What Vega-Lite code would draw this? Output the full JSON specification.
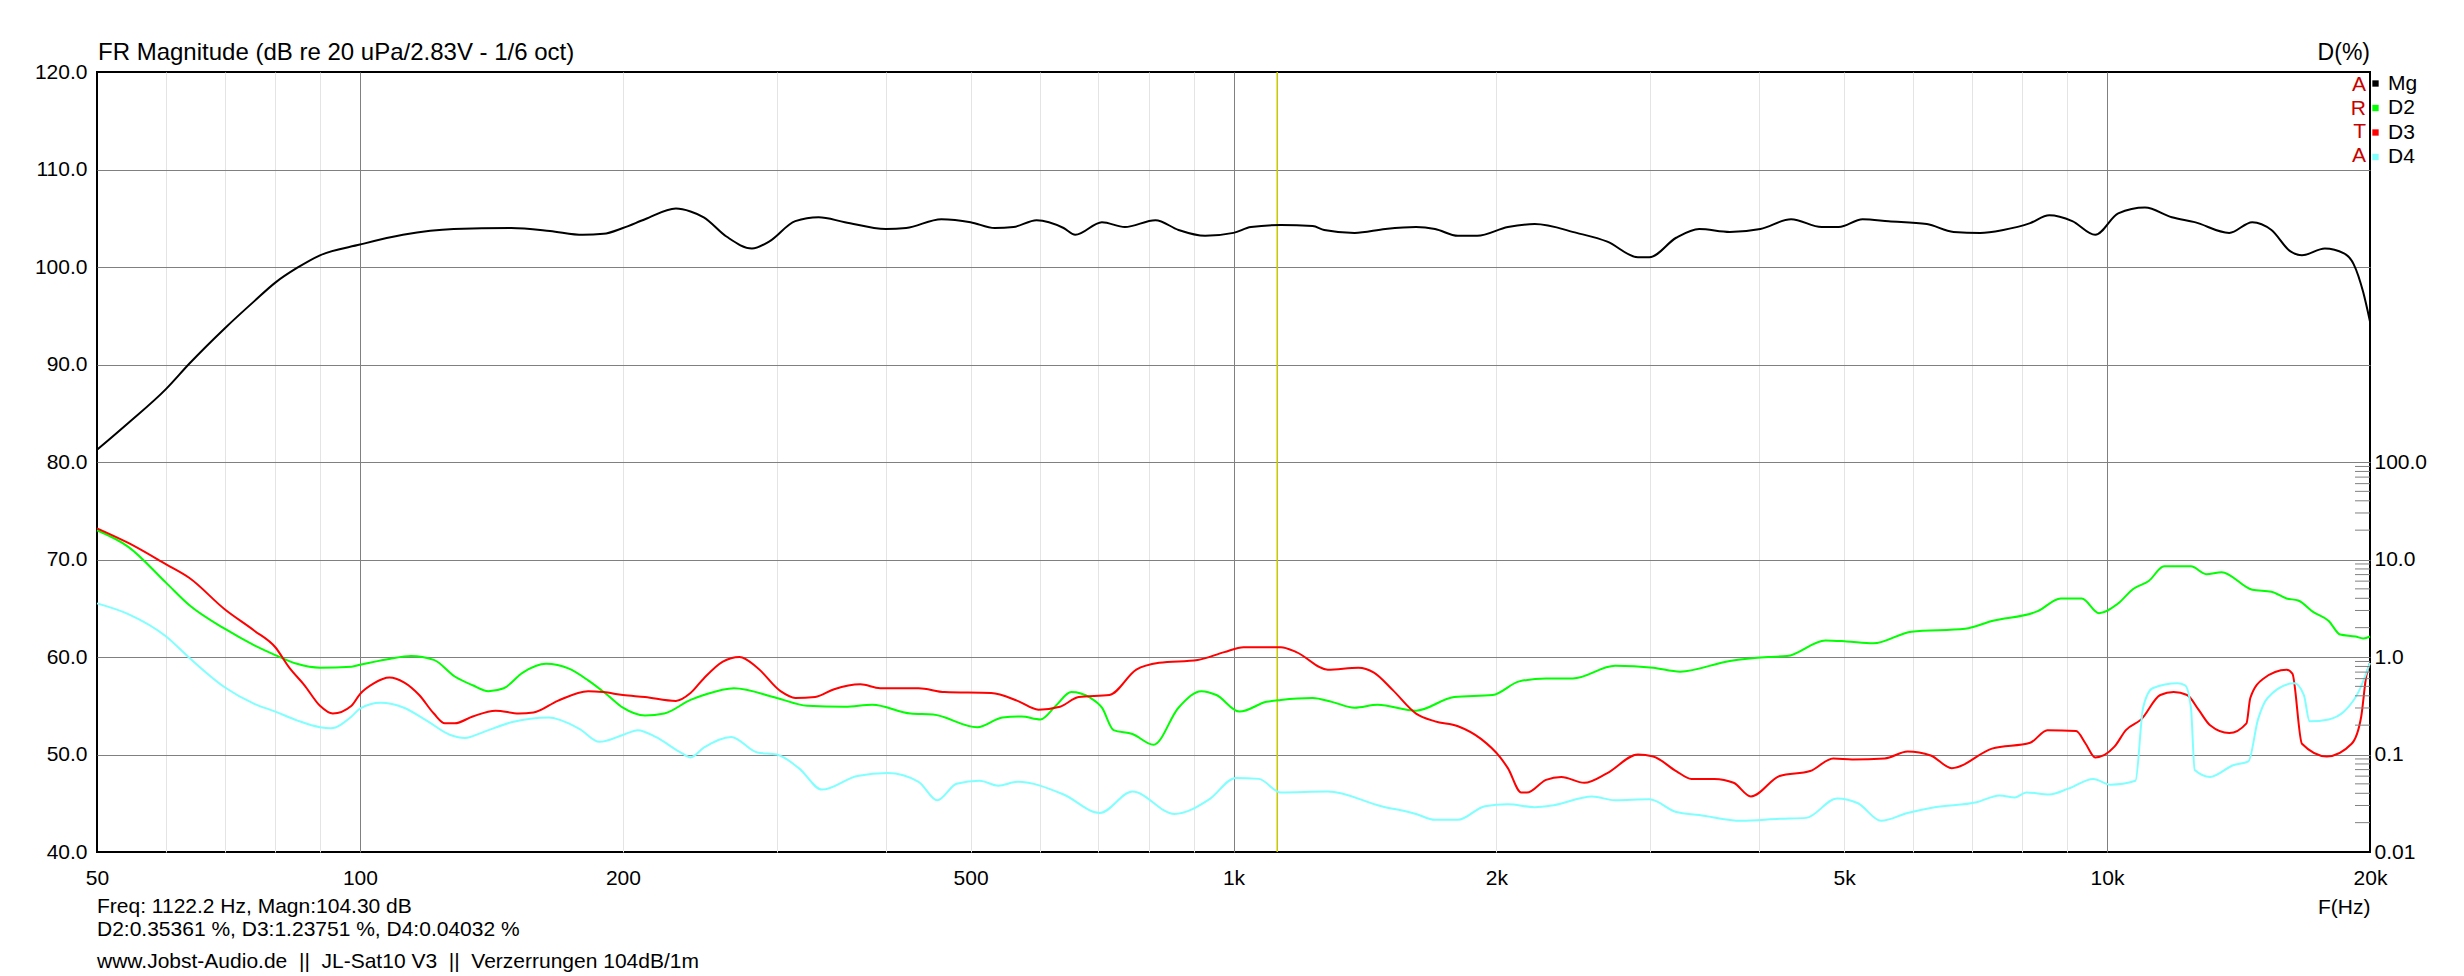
{
  "$schema": "https://vega.github.io/schema/vega-lite/v6.json",
  "width": 2273,
  "height": 780,
  "autosize": {"type": "none"},
  "padding": {"left": 97, "top": 72, "right": 94, "bottom": 124},
  "background": "#ffffff",
  "config": {
    "font": "Liberation Sans",
    "view": {"stroke": "#000000", "strokeWidth": 2},
    "axis": {"labelFont": "Liberation Sans", "titleFont": "Liberation Sans", "labelColor": "#000000", "titleColor": "#000000", "labelFontSize": 21, "titleFontSize": 21, "titleFontWeight": "normal"},
    "legend": {"labelFont": "Liberation Sans"}
  },
  "layer": [
    {
      "layer": [
        {
          "data": {"values": [{"f": 1122.2}]},
          "mark": {"type": "rule", "color": "#c8c800", "strokeWidth": 1.5},
          "encoding": {"x": {"field": "f", "type": "quantitative"}}
        },
        {
          "data": {"values": [
            {"s": "Mg", "f": 50, "db": 81.25}, {"s": "Mg", "f": 54.3, "db": 84.0}, {"s": "Mg", "f": 60, "db": 87.5}, {"s": "Mg", "f": 63.8, "db": 90.1},
            {"s": "Mg", "f": 70, "db": 93.7}, {"s": "Mg", "f": 75.7, "db": 96.5}, {"s": "Mg", "f": 80, "db": 98.4}, {"s": "Mg", "f": 84.7, "db": 99.9},
            {"s": "Mg", "f": 90, "db": 101.2}, {"s": "Mg", "f": 100, "db": 102.3}, {"s": "Mg", "f": 112, "db": 103.3}, {"s": "Mg", "f": 128, "db": 103.9},
            {"s": "Mg", "f": 149, "db": 104.0}, {"s": "Mg", "f": 165, "db": 103.7}, {"s": "Mg", "f": 180, "db": 103.3}, {"s": "Mg", "f": 190, "db": 103.4},
            {"s": "Mg", "f": 200, "db": 104.0}, {"s": "Mg", "f": 212, "db": 104.9}, {"s": "Mg", "f": 230, "db": 106.0}, {"s": "Mg", "f": 239, "db": 105.7},
            {"s": "Mg", "f": 247.5, "db": 105.1}, {"s": "Mg", "f": 263, "db": 103.1}, {"s": "Mg", "f": 281, "db": 101.9}, {"s": "Mg", "f": 294, "db": 102.6},
            {"s": "Mg", "f": 315, "db": 104.7}, {"s": "Mg", "f": 335, "db": 105.1}, {"s": "Mg", "f": 359, "db": 104.6}, {"s": "Mg", "f": 400, "db": 103.9},
            {"s": "Mg", "f": 422, "db": 104.0}, {"s": "Mg", "f": 463, "db": 104.9}, {"s": "Mg", "f": 500, "db": 104.6}, {"s": "Mg", "f": 533, "db": 104.0},
            {"s": "Mg", "f": 560, "db": 104.1}, {"s": "Mg", "f": 595, "db": 104.8}, {"s": "Mg", "f": 639, "db": 104.0}, {"s": "Mg", "f": 659, "db": 103.3},
            {"s": "Mg", "f": 707, "db": 104.6}, {"s": "Mg", "f": 751, "db": 104.1}, {"s": "Mg", "f": 814, "db": 104.8}, {"s": "Mg", "f": 865, "db": 103.8},
            {"s": "Mg", "f": 928, "db": 103.2}, {"s": "Mg", "f": 1000, "db": 103.5}, {"s": "Mg", "f": 1047, "db": 104.1}, {"s": "Mg", "f": 1133, "db": 104.3},
            {"s": "Mg", "f": 1232, "db": 104.2}, {"s": "Mg", "f": 1270, "db": 103.8}, {"s": "Mg", "f": 1376, "db": 103.5}, {"s": "Mg", "f": 1492, "db": 103.9},
            {"s": "Mg", "f": 1618, "db": 104.1}, {"s": "Mg", "f": 1701, "db": 103.9}, {"s": "Mg", "f": 1807, "db": 103.2}, {"s": "Mg", "f": 1901, "db": 103.2},
            {"s": "Mg", "f": 2061, "db": 104.1}, {"s": "Mg", "f": 2212, "db": 104.4}, {"s": "Mg", "f": 2471, "db": 103.5}, {"s": "Mg", "f": 2679, "db": 102.6},
            {"s": "Mg", "f": 2904, "db": 101.0}, {"s": "Mg", "f": 2993, "db": 101.0}, {"s": "Mg", "f": 3212, "db": 103.0}, {"s": "Mg", "f": 3413, "db": 103.9},
            {"s": "Mg", "f": 3700, "db": 103.6}, {"s": "Mg", "f": 4010, "db": 103.9}, {"s": "Mg", "f": 4348, "db": 104.9}, {"s": "Mg", "f": 4713, "db": 104.1},
            {"s": "Mg", "f": 4930, "db": 104.1}, {"s": "Mg", "f": 5250, "db": 104.9}, {"s": "Mg", "f": 5622, "db": 104.7}, {"s": "Mg", "f": 6219, "db": 104.4},
            {"s": "Mg", "f": 6673, "db": 103.6}, {"s": "Mg", "f": 7161, "db": 103.5}, {"s": "Mg", "f": 7607, "db": 103.8}, {"s": "Mg", "f": 8166, "db": 104.5},
            {"s": "Mg", "f": 8588, "db": 105.3}, {"s": "Mg", "f": 9125, "db": 104.7}, {"s": "Mg", "f": 9694, "db": 103.3}, {"s": "Mg", "f": 10299, "db": 105.5},
            {"s": "Mg", "f": 11052, "db": 106.1}, {"s": "Mg", "f": 11862, "db": 105.1}, {"s": "Mg", "f": 12600, "db": 104.6}, {"s": "Mg", "f": 13800, "db": 103.5},
            {"s": "Mg", "f": 14663, "db": 104.6}, {"s": "Mg", "f": 15425, "db": 103.8}, {"s": "Mg", "f": 16218, "db": 101.6}, {"s": "Mg", "f": 16716, "db": 101.2},
            {"s": "Mg", "f": 17757, "db": 101.9}, {"s": "Mg", "f": 18676, "db": 101.4}, {"s": "Mg", "f": 19155, "db": 100.3}, {"s": "Mg", "f": 19647, "db": 97.4},
            {"s": "Mg", "f": 20000, "db": 94.4},

            {"s": "D2", "f": 50, "db": 73.0}, {"s": "D2", "f": 54.3, "db": 71.3}, {"s": "D2", "f": 60, "db": 67.6}, {"s": "D2", "f": 63.8, "db": 65.3},
            {"s": "D2", "f": 70, "db": 62.9}, {"s": "D2", "f": 75.7, "db": 61.2}, {"s": "D2", "f": 80, "db": 60.2}, {"s": "D2", "f": 84.7, "db": 59.3},
            {"s": "D2", "f": 90, "db": 58.9}, {"s": "D2", "f": 97.8, "db": 59.0}, {"s": "D2", "f": 100, "db": 59.2}, {"s": "D2", "f": 108, "db": 59.8},
            {"s": "D2", "f": 114.4, "db": 60.1}, {"s": "D2", "f": 121.5, "db": 59.7}, {"s": "D2", "f": 128.4, "db": 58.0}, {"s": "D2", "f": 134.6, "db": 57.1},
            {"s": "D2", "f": 140.3, "db": 56.5}, {"s": "D2", "f": 146.1, "db": 56.8}, {"s": "D2", "f": 153.6, "db": 58.4}, {"s": "D2", "f": 163.3, "db": 59.3},
            {"s": "D2", "f": 173.5, "db": 58.8}, {"s": "D2", "f": 182.5, "db": 57.6}, {"s": "D2", "f": 192, "db": 56.1}, {"s": "D2", "f": 200, "db": 54.8},
            {"s": "D2", "f": 212, "db": 54.0}, {"s": "D2", "f": 223, "db": 54.2}, {"s": "D2", "f": 239, "db": 55.6}, {"s": "D2", "f": 247.5, "db": 56.1},
            {"s": "D2", "f": 268, "db": 56.8}, {"s": "D2", "f": 300, "db": 55.8}, {"s": "D2", "f": 325, "db": 55.0}, {"s": "D2", "f": 359, "db": 54.9},
            {"s": "D2", "f": 386, "db": 55.1}, {"s": "D2", "f": 427, "db": 54.2}, {"s": "D2", "f": 453, "db": 54.1}, {"s": "D2", "f": 509, "db": 52.8},
            {"s": "D2", "f": 544, "db": 53.8}, {"s": "D2", "f": 572, "db": 53.9}, {"s": "D2", "f": 601, "db": 53.6}, {"s": "D2", "f": 626, "db": 55.0},
            {"s": "D2", "f": 652, "db": 56.4}, {"s": "D2", "f": 686, "db": 55.8}, {"s": "D2", "f": 707, "db": 54.8}, {"s": "D2", "f": 729, "db": 52.5},
            {"s": "D2", "f": 766, "db": 52.1}, {"s": "D2", "f": 810, "db": 51.0}, {"s": "D2", "f": 865, "db": 54.8}, {"s": "D2", "f": 919, "db": 56.5},
            {"s": "D2", "f": 956, "db": 56.1}, {"s": "D2", "f": 1016, "db": 54.4}, {"s": "D2", "f": 1091, "db": 55.4}, {"s": "D2", "f": 1133, "db": 55.6},
            {"s": "D2", "f": 1232, "db": 55.8}, {"s": "D2", "f": 1296, "db": 55.4}, {"s": "D2", "f": 1376, "db": 54.8}, {"s": "D2", "f": 1462, "db": 55.1},
            {"s": "D2", "f": 1618, "db": 54.5}, {"s": "D2", "f": 1789, "db": 55.9}, {"s": "D2", "f": 1980, "db": 56.1}, {"s": "D2", "f": 2124, "db": 57.5},
            {"s": "D2", "f": 2279, "db": 57.8}, {"s": "D2", "f": 2446, "db": 57.8}, {"s": "D2", "f": 2734, "db": 59.1}, {"s": "D2", "f": 3023, "db": 58.9},
            {"s": "D2", "f": 3245, "db": 58.5}, {"s": "D2", "f": 3700, "db": 59.6}, {"s": "D2", "f": 4093, "db": 60.0}, {"s": "D2", "f": 4302, "db": 60.1},
            {"s": "D2", "f": 4761, "db": 61.7}, {"s": "D2", "f": 5031, "db": 61.6}, {"s": "D2", "f": 5400, "db": 61.4}, {"s": "D2", "f": 5973, "db": 62.6},
            {"s": "D2", "f": 6880, "db": 62.9}, {"s": "D2", "f": 7383, "db": 63.7}, {"s": "D2", "f": 8331, "db": 64.7}, {"s": "D2", "f": 8851, "db": 66.0},
            {"s": "D2", "f": 9357, "db": 66.0}, {"s": "D2", "f": 9790, "db": 64.5}, {"s": "D2", "f": 10299, "db": 65.5}, {"s": "D2", "f": 10722, "db": 67.0},
            {"s": "D2", "f": 11163, "db": 67.8}, {"s": "D2", "f": 11624, "db": 69.3}, {"s": "D2", "f": 12475, "db": 69.3}, {"s": "D2", "f": 12990, "db": 68.5},
            {"s": "D2", "f": 13524, "db": 68.7}, {"s": "D2", "f": 14663, "db": 66.9}, {"s": "D2", "f": 15425, "db": 66.7}, {"s": "D2", "f": 16053, "db": 66.0},
            {"s": "D2", "f": 16548, "db": 65.8}, {"s": "D2", "f": 17231, "db": 64.6}, {"s": "D2", "f": 17940, "db": 63.7}, {"s": "D2", "f": 18490, "db": 62.3},
            {"s": "D2", "f": 19254, "db": 62.1}, {"s": "D2", "f": 19647, "db": 61.9}, {"s": "D2", "f": 20000, "db": 62.1},

            {"s": "D3", "f": 50, "db": 73.2}, {"s": "D3", "f": 54.3, "db": 71.7}, {"s": "D3", "f": 60, "db": 69.5}, {"s": "D3", "f": 63.8, "db": 68.1},
            {"s": "D3", "f": 70, "db": 64.9}, {"s": "D3", "f": 75.7, "db": 62.7}, {"s": "D3", "f": 80, "db": 61.0}, {"s": "D3", "f": 83.0, "db": 58.9},
            {"s": "D3", "f": 86.4, "db": 57.1}, {"s": "D3", "f": 90, "db": 55.0}, {"s": "D3", "f": 93.1, "db": 54.2}, {"s": "D3", "f": 97.8, "db": 55.0},
            {"s": "D3", "f": 100, "db": 56.2}, {"s": "D3", "f": 103.7, "db": 57.3}, {"s": "D3", "f": 108.1, "db": 57.9}, {"s": "D3", "f": 112.3, "db": 57.4},
            {"s": "D3", "f": 116.9, "db": 56.1}, {"s": "D3", "f": 121.5, "db": 54.2}, {"s": "D3", "f": 125.1, "db": 53.2}, {"s": "D3", "f": 128.4, "db": 53.2},
            {"s": "D3", "f": 134.6, "db": 53.9}, {"s": "D3", "f": 143, "db": 54.5}, {"s": "D3", "f": 152, "db": 54.2}, {"s": "D3", "f": 158, "db": 54.3},
            {"s": "D3", "f": 168.4, "db": 55.5}, {"s": "D3", "f": 182.5, "db": 56.5}, {"s": "D3", "f": 190, "db": 56.4}, {"s": "D3", "f": 200, "db": 56.1},
            {"s": "D3", "f": 212, "db": 55.9}, {"s": "D3", "f": 230, "db": 55.5}, {"s": "D3", "f": 239, "db": 56.3}, {"s": "D3", "f": 247.5, "db": 57.8},
            {"s": "D3", "f": 260, "db": 59.5}, {"s": "D3", "f": 272, "db": 60.0}, {"s": "D3", "f": 285, "db": 58.9}, {"s": "D3", "f": 303, "db": 56.5},
            {"s": "D3", "f": 315, "db": 55.8}, {"s": "D3", "f": 332, "db": 55.9}, {"s": "D3", "f": 349, "db": 56.7}, {"s": "D3", "f": 374, "db": 57.2},
            {"s": "D3", "f": 394, "db": 56.8}, {"s": "D3", "f": 436, "db": 56.8}, {"s": "D3", "f": 467, "db": 56.4}, {"s": "D3", "f": 528, "db": 56.3},
            {"s": "D3", "f": 566, "db": 55.5}, {"s": "D3", "f": 598, "db": 54.6}, {"s": "D3", "f": 633, "db": 54.9}, {"s": "D3", "f": 665, "db": 55.9},
            {"s": "D3", "f": 721, "db": 56.1}, {"s": "D3", "f": 774, "db": 58.7}, {"s": "D3", "f": 822, "db": 59.4}, {"s": "D3", "f": 910, "db": 59.7},
            {"s": "D3", "f": 976, "db": 60.5}, {"s": "D3", "f": 1027, "db": 61.0}, {"s": "D3", "f": 1133, "db": 61.0}, {"s": "D3", "f": 1180, "db": 60.5},
            {"s": "D3", "f": 1282, "db": 58.7}, {"s": "D3", "f": 1390, "db": 58.9}, {"s": "D3", "f": 1448, "db": 58.4}, {"s": "D3", "f": 1522, "db": 56.6},
            {"s": "D3", "f": 1618, "db": 54.2}, {"s": "D3", "f": 1701, "db": 53.4}, {"s": "D3", "f": 1807, "db": 52.9}, {"s": "D3", "f": 1920, "db": 51.6},
            {"s": "D3", "f": 2020, "db": 49.7}, {"s": "D3", "f": 2061, "db": 48.6}, {"s": "D3", "f": 2135, "db": 46.1}, {"s": "D3", "f": 2167, "db": 46.1},
            {"s": "D3", "f": 2279, "db": 47.4}, {"s": "D3", "f": 2373, "db": 47.7}, {"s": "D3", "f": 2521, "db": 47.1}, {"s": "D3", "f": 2679, "db": 48.1},
            {"s": "D3", "f": 2904, "db": 50.0}, {"s": "D3", "f": 3023, "db": 49.8}, {"s": "D3", "f": 3212, "db": 48.3}, {"s": "D3", "f": 3344, "db": 47.5},
            {"s": "D3", "f": 3553, "db": 47.5}, {"s": "D3", "f": 3737, "db": 47.1}, {"s": "D3", "f": 3911, "db": 45.7}, {"s": "D3", "f": 4219, "db": 47.8},
            {"s": "D3", "f": 4573, "db": 48.3}, {"s": "D3", "f": 4858, "db": 49.6}, {"s": "D3", "f": 5109, "db": 49.5}, {"s": "D3", "f": 5566, "db": 49.6},
            {"s": "D3", "f": 5911, "db": 50.3}, {"s": "D3", "f": 6283, "db": 49.9}, {"s": "D3", "f": 6640, "db": 48.6}, {"s": "D3", "f": 7383, "db": 50.6},
            {"s": "D3", "f": 8166, "db": 51.2}, {"s": "D3", "f": 8545, "db": 52.5}, {"s": "D3", "f": 9217, "db": 52.4}, {"s": "D3", "f": 9452, "db": 51.1},
            {"s": "D3", "f": 9694, "db": 49.7}, {"s": "D3", "f": 10197, "db": 50.8}, {"s": "D3", "f": 10510, "db": 52.5}, {"s": "D3", "f": 10942, "db": 53.6},
            {"s": "D3", "f": 11507, "db": 56.1}, {"s": "D3", "f": 11920, "db": 56.4}, {"s": "D3", "f": 12350, "db": 56.1}, {"s": "D3", "f": 12727, "db": 54.6},
            {"s": "D3", "f": 13122, "db": 53.0}, {"s": "D3", "f": 13800, "db": 52.2}, {"s": "D3", "f": 14442, "db": 53.2}, {"s": "D3", "f": 14588, "db": 55.8},
            {"s": "D3", "f": 15111, "db": 57.8}, {"s": "D3", "f": 16053, "db": 58.7}, {"s": "D3", "f": 16300, "db": 58.3}, {"s": "D3", "f": 16716, "db": 51.1},
            {"s": "D3", "f": 17848, "db": 49.8}, {"s": "D3", "f": 19055, "db": 51.1}, {"s": "D3", "f": 19543, "db": 53.9}, {"s": "D3", "f": 19800, "db": 58.0},
            {"s": "D3", "f": 20000, "db": 59.4},

            {"s": "D4", "f": 50, "db": 65.5}, {"s": "D4", "f": 54.3, "db": 64.4}, {"s": "D4", "f": 60, "db": 62.1}, {"s": "D4", "f": 63.8, "db": 59.9},
            {"s": "D4", "f": 70, "db": 56.9}, {"s": "D4", "f": 75.7, "db": 55.2}, {"s": "D4", "f": 80, "db": 54.4}, {"s": "D4", "f": 84.7, "db": 53.5},
            {"s": "D4", "f": 90, "db": 52.8}, {"s": "D4", "f": 92.6, "db": 52.7}, {"s": "D4", "f": 97.8, "db": 53.9}, {"s": "D4", "f": 100, "db": 54.7},
            {"s": "D4", "f": 105.6, "db": 55.3}, {"s": "D4", "f": 112.3, "db": 54.8}, {"s": "D4", "f": 119.1, "db": 53.5}, {"s": "D4", "f": 126.9, "db": 52.0},
            {"s": "D4", "f": 131.9, "db": 51.7}, {"s": "D4", "f": 138.4, "db": 52.3}, {"s": "D4", "f": 149, "db": 53.3}, {"s": "D4", "f": 164.6, "db": 53.8},
            {"s": "D4", "f": 170, "db": 53.5}, {"s": "D4", "f": 178.5, "db": 52.6}, {"s": "D4", "f": 188, "db": 51.3}, {"s": "D4", "f": 200, "db": 52.0},
            {"s": "D4", "f": 208, "db": 52.5}, {"s": "D4", "f": 218, "db": 51.8}, {"s": "D4", "f": 233, "db": 50.2}, {"s": "D4", "f": 239, "db": 49.7},
            {"s": "D4", "f": 247.5, "db": 50.7}, {"s": "D4", "f": 266, "db": 51.8}, {"s": "D4", "f": 285, "db": 50.2}, {"s": "D4", "f": 300, "db": 50.0},
            {"s": "D4", "f": 318, "db": 48.6}, {"s": "D4", "f": 338, "db": 46.4}, {"s": "D4", "f": 371, "db": 47.8}, {"s": "D4", "f": 402, "db": 48.1},
            {"s": "D4", "f": 436, "db": 47.2}, {"s": "D4", "f": 458, "db": 45.3}, {"s": "D4", "f": 482, "db": 47.0}, {"s": "D4", "f": 512, "db": 47.3},
            {"s": "D4", "f": 538, "db": 46.8}, {"s": "D4", "f": 566, "db": 47.2}, {"s": "D4", "f": 639, "db": 45.9}, {"s": "D4", "f": 703, "db": 44.0},
            {"s": "D4", "f": 766, "db": 46.2}, {"s": "D4", "f": 856, "db": 43.9}, {"s": "D4", "f": 938, "db": 45.4}, {"s": "D4", "f": 1006, "db": 47.6},
            {"s": "D4", "f": 1069, "db": 47.5}, {"s": "D4", "f": 1133, "db": 46.1}, {"s": "D4", "f": 1282, "db": 46.2}, {"s": "D4", "f": 1477, "db": 44.7},
            {"s": "D4", "f": 1618, "db": 43.9}, {"s": "D4", "f": 1701, "db": 43.3}, {"s": "D4", "f": 1807, "db": 43.3}, {"s": "D4", "f": 1940, "db": 44.7},
            {"s": "D4", "f": 2061, "db": 44.9}, {"s": "D4", "f": 2212, "db": 44.6}, {"s": "D4", "f": 2326, "db": 44.8}, {"s": "D4", "f": 2573, "db": 45.7},
            {"s": "D4", "f": 2734, "db": 45.3}, {"s": "D4", "f": 2993, "db": 45.4}, {"s": "D4", "f": 3212, "db": 44.1}, {"s": "D4", "f": 3413, "db": 43.8},
            {"s": "D4", "f": 3814, "db": 43.2}, {"s": "D4", "f": 4219, "db": 43.4}, {"s": "D4", "f": 4525, "db": 43.5}, {"s": "D4", "f": 4909, "db": 45.5},
            {"s": "D4", "f": 5187, "db": 45.0}, {"s": "D4", "f": 5512, "db": 43.2}, {"s": "D4", "f": 5911, "db": 44.0}, {"s": "D4", "f": 6347, "db": 44.6},
            {"s": "D4", "f": 7091, "db": 45.1}, {"s": "D4", "f": 7533, "db": 45.8}, {"s": "D4", "f": 7845, "db": 45.6}, {"s": "D4", "f": 8086, "db": 46.1},
            {"s": "D4", "f": 8588, "db": 45.9}, {"s": "D4", "f": 9031, "db": 46.5}, {"s": "D4", "f": 9645, "db": 47.5}, {"s": "D4", "f": 10093, "db": 46.9},
            {"s": "D4", "f": 10777, "db": 47.3}, {"s": "D4", "f": 10997, "db": 54.8}, {"s": "D4", "f": 11276, "db": 56.8}, {"s": "D4", "f": 12040, "db": 57.3},
            {"s": "D4", "f": 12286, "db": 57.1}, {"s": "D4", "f": 12475, "db": 54.8}, {"s": "D4", "f": 12600, "db": 48.4}, {"s": "D4", "f": 13122, "db": 47.7},
            {"s": "D4", "f": 13942, "db": 48.9}, {"s": "D4", "f": 14516, "db": 49.3}, {"s": "D4", "f": 14888, "db": 53.6}, {"s": "D4", "f": 15268, "db": 55.8},
            {"s": "D4", "f": 16384, "db": 57.3}, {"s": "D4", "f": 16800, "db": 56.1}, {"s": "D4", "f": 17057, "db": 53.4}, {"s": "D4", "f": 17940, "db": 53.6},
            {"s": "D4", "f": 18676, "db": 54.4}, {"s": "D4", "f": 19450, "db": 56.6}, {"s": "D4", "f": 20000, "db": 59.4}
          ]},
          "mark": {"type": "line", "interpolate": "monotone", "strokeWidth": 2},
          "encoding": {
            "x": {
              "field": "f",
              "type": "quantitative",
              "scale": {"type": "log", "domain": [50, 20000], "nice": false},
              "axis": {
                "values": [50, 60, 70, 80, 90, 100, 200, 300, 400, 500, 600, 700, 800, 900, 1000, 2000, 3000, 4000, 5000, 6000, 7000, 8000, 9000, 10000, 20000],
                "labelExpr": "(datum.value == 50 || datum.value == 100 || datum.value == 200 || datum.value == 500) ? '' + datum.value : ((datum.value == 1000 || datum.value == 2000 || datum.value == 5000 || datum.value == 10000 || datum.value == 20000) ? (datum.value / 1000) + 'k' : '')",
                "grid": true,
                "gridColor": {"condition": {"test": "datum.value == 100 || datum.value == 1000 || datum.value == 10000", "value": "#808080"}, "value": "#e4e4e4"},
                "gridOpacity": {"condition": {"test": "datum.value == 50 || datum.value == 20000", "value": 0}, "value": 1},
                "gridWidth": 1,
                "ticks": false,
                "domain": false,
                "labelPadding": 15,
                "labelFlush": false,
                "labelOverlap": false,
                "title": "F(Hz)",
                "titleAnchor": "end",
                "titlePadding": 8
              }
            },
            "y": {
              "field": "db",
              "type": "quantitative",
              "scale": {"domain": [40, 120], "nice": false, "zero": false},
              "axis": {
                "values": [40, 50, 60, 70, 80, 90, 100, 110, 120],
                "format": ".1f",
                "grid": true,
                "gridColor": "#808080",
                "gridOpacity": {"condition": {"test": "datum.value == 40 || datum.value == 120", "value": 0}, "value": 1},
                "ticks": false,
                "domain": false,
                "labelPadding": 10,
                "title": null
              }
            },
            "color": {
              "field": "s",
              "type": "nominal",
              "scale": {"domain": ["Mg", "D2", "D3", "D4"], "range": ["#000000", "#00ff00", "#ff0000", "#80ffff"]},
              "legend": {
                "orient": "none",
                "legendX": 2268,
                "legendY": 1,
                "title": null,
                "symbolType": "square",
                "symbolSize": 40,
                "symbolStrokeWidth": 0,
                "labelFontSize": 21,
                "labelColor": "#000000",
                "labelOffset": 2,
                "rowPadding": 2.5,
                "padding": 0,
                "encode": {"symbols": {"update": {"fill": {"signal": "scale('color', datum.value)"}, "fillOpacity": {"value": 1}}}}
              }
            }
          }
        },
        {
          "data": {"values": [{"t": "FR Magnitude (dB re 20 uPa/2.83V - 1/6 oct)"}]},
          "mark": {"type": "text", "align": "left", "baseline": "middle", "dx": 1, "dy": -19, "fontSize": 24, "color": "#000000"},
          "encoding": {"x": {"datum": 50, "type": "quantitative"}, "y": {"datum": 120, "type": "quantitative"}, "text": {"field": "t"}}
        },
        {
          "data": {"values": [{"t": "D(%)"}]},
          "mark": {"type": "text", "align": "right", "baseline": "middle", "dy": -19, "fontSize": 23, "color": "#000000"},
          "encoding": {"x": {"datum": 20000, "type": "quantitative"}, "y": {"datum": 120, "type": "quantitative"}, "text": {"field": "t"}}
        },
        {
          "data": {"values": [{"t": ["A", "R", "T", "A"]}]},
          "mark": {"type": "text", "align": "right", "baseline": "top", "dx": -4, "dy": 2, "fontSize": 21, "lineHeight": 23.5, "color": "#c80000"},
          "encoding": {"x": {"datum": 20000, "type": "quantitative"}, "y": {"datum": 120, "type": "quantitative"}, "text": {"field": "t"}}
        },
        {
          "data": {"values": [{"t": "Freq: 1122.2 Hz, Magn:104.30 dB"}]},
          "mark": {"type": "text", "align": "left", "baseline": "middle", "dy": 55, "fontSize": 21, "color": "#000000"},
          "encoding": {"x": {"datum": 50, "type": "quantitative"}, "y": {"datum": 40, "type": "quantitative"}, "text": {"field": "t"}}
        },
        {
          "data": {"values": [{"t": "D2:0.35361 %, D3:1.23751 %, D4:0.04032 %"}]},
          "mark": {"type": "text", "align": "left", "baseline": "middle", "dy": 78, "fontSize": 21, "color": "#000000"},
          "encoding": {"x": {"datum": 50, "type": "quantitative"}, "y": {"datum": 40, "type": "quantitative"}, "text": {"field": "t"}}
        },
        {
          "data": {"values": [{"t": "www.Jobst-Audio.de \u00a0||\u00a0 JL-Sat10 V3 \u00a0||\u00a0 Verzerrungen 104dB/1m"}]},
          "mark": {"type": "text", "align": "left", "baseline": "middle", "dy": 110, "fontSize": 21, "color": "#000000"},
          "encoding": {"x": {"datum": 50, "type": "quantitative"}, "y": {"datum": 40, "type": "quantitative"}, "text": {"field": "t"}}
        }
      ]
    },
    {
      "data": {"values": [
        {"p": 0.02}, {"p": 0.03}, {"p": 0.04}, {"p": 0.05}, {"p": 0.06}, {"p": 0.07}, {"p": 0.08}, {"p": 0.09},
        {"p": 0.2}, {"p": 0.3}, {"p": 0.4}, {"p": 0.5}, {"p": 0.6}, {"p": 0.7}, {"p": 0.8}, {"p": 0.9},
        {"p": 2}, {"p": 3}, {"p": 4}, {"p": 5}, {"p": 6}, {"p": 7}, {"p": 8}, {"p": 9},
        {"p": 20}, {"p": 30}, {"p": 40}, {"p": 50}, {"p": 60}, {"p": 70}, {"p": 80}, {"p": 90}
      ]},
      "mark": {"type": "rule", "color": "#808080", "strokeWidth": 1, "x2Offset": -15},
      "encoding": {
        "x": {"datum": 20000, "type": "quantitative"},
        "x2": {"datum": 20000},
        "y": {
          "field": "p",
          "type": "quantitative",
          "scale": {"type": "log", "domain": [0.01, 1000000], "nice": false},
          "axis": {
            "orient": "right",
            "values": [0.01, 0.1, 1, 10, 100],
            "labelExpr": "datum.value >= 1 ? format(datum.value, '.1f') : (datum.value >= 0.1 ? '0.1' : '0.01')",
            "grid": false,
            "ticks": false,
            "domain": false,
            "labelAlign": "left",
            "labelPadding": 4,
            "title": null
          }
        }
      }
    }
  ],
  "resolve": {"scale": {"y": "independent"}}
}
